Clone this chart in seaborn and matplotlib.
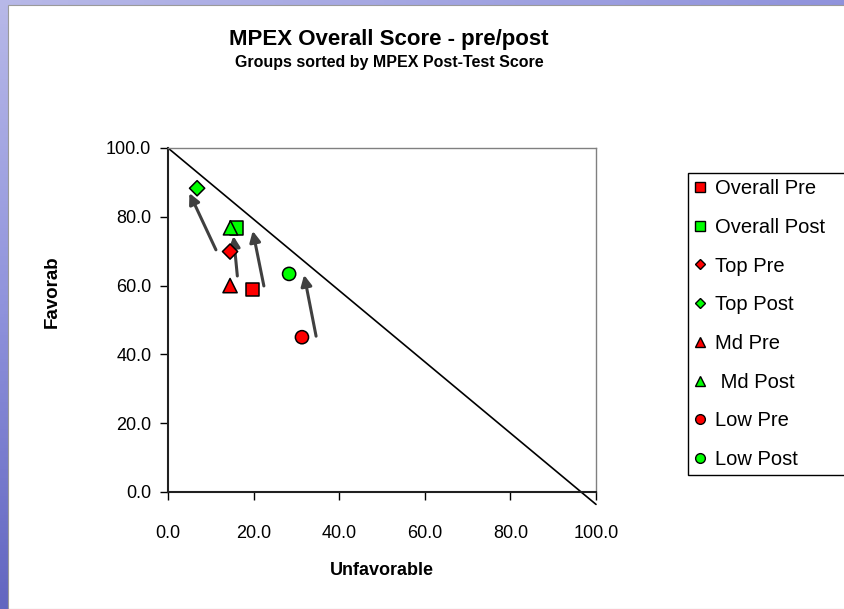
import numpy as np
import pandas as pd
import matplotlib
matplotlib.use("Agg")
import matplotlib.pyplot as plt
from matplotlib.patches import Rectangle
import seaborn as sns

# values
series = ["Overall Pre", "Overall Post", "Top Pre", "Top Post",
          "Md Pre", " Md Post", "Low Pre", "Low Post"]
unfavorable = [19.7, 16.0, 14.5, 6.8, 14.5, 14.6, 31.3, 28.3]
favorable = [58.9, 76.8, 69.9, 88.3, 60.0, 76.8, 45.0, 63.4]

# pre -> post arrows (tail and head), drawn beside the points
arrow_x0 = [11.2, 16.2, 22.4, 34.6]
arrow_y0 = [70.4, 62.8, 59.9, 45.3]
arrow_x1 = [5.0, 15.3, 19.8, 31.8]
arrow_y1 = [86.9, 74.4, 75.9, 63.1]

# "balance" line: favorable + unfavorable = 100 (drawn a bit past the axis)
line_x = [0.0, 100.0]
line_y = [100.0, -3.6]

ticks = [0, 20, 40, 60, 80, 100]

df = pd.DataFrame({"Unfavorable": unfavorable, "Favorable": favorable, "series": series})

palette = {s: ("#FF0000" if "Pre" in s else "#00FF00") for s in series}
markers = {"Overall Pre": "s", "Overall Post": "s", "Top Pre": "D", "Top Post": "D",
           "Md Pre": "^", " Md Post": "^", "Low Pre": "o", "Low Post": "o"}
sizes = {"Overall Pre": 95, "Overall Post": 95, "Top Pre": 60, "Top Post": 60,
         "Md Pre": 105, " Md Post": 105, "Low Pre": 90, "Low Post": 90}

sns.set_style("white")
plt.rcParams["font.family"] = ["Liberation Sans", "DejaVu Sans"]
plt.rcParams.update({"text.color": "black", "axes.labelcolor": "black",
                     "xtick.color": "black", "ytick.color": "black"})

W, H = 845, 609
fig = plt.figure(figsize=(W / 100, H / 100), dpi=100)

# blue slide border, white chart panel on top
bg = fig.add_axes([0, 0, 1, 1], zorder=-10)
gy, gx = np.mgrid[0:1:200j, 0:1:200j]
grad = np.clip(0.2 + 0.6 * gy + 0.3 * gx, 0, 1)
cmap = matplotlib.colors.LinearSegmentedColormap.from_list("slide", ["#d2d2f0", "#9093dc", "#4448ae"])
bg.imshow(grad, aspect="auto", cmap=cmap, vmin=0, vmax=1, extent=[0, 1, 0, 1], origin="upper")
bg.set_axis_off()
fig.patches.append(Rectangle((8 / W, 0), 1 - 8 / W, 1 - 5 / H, transform=fig.transFigure,
                             facecolor="white", edgecolor="#9a9a9a", lw=0.8, zorder=-5))

ax = fig.add_axes([168 / W, 1 - 492 / H, 428 / W, 344 / H])
ax.set_facecolor("none")

ax.plot(line_x, line_y, color="black", lw=1.2, clip_on=False, zorder=2)

for x0, y0, x1, y1 in zip(arrow_x0, arrow_y0, arrow_x1, arrow_y1):
    ax.annotate("", xy=(x1, y1), xytext=(x0, y0),
                arrowprops=dict(arrowstyle="-|>", color="#404040", lw=2.2,
                                mutation_scale=16, shrinkA=0, shrinkB=0), zorder=3)

sns.scatterplot(data=df, x="Unfavorable", y="Favorable", hue="series", style="series",
                size="series", sizes=sizes, palette=palette, markers=markers,
                edgecolor="black", linewidth=1.1, ax=ax, zorder=4, clip_on=False)

ax.set_xlim(0, 100)
ax.set_ylim(0, 100)
ax.set_xticks(ticks)
ax.set_yticks(ticks)
ax.set_xticklabels([f"{t:.1f}" for t in ticks])
ax.set_yticklabels([f"{t:.1f}" for t in ticks])
ax.tick_params(axis="both", direction="out", length=6, width=1, color="black",
               labelsize=13, left=True, bottom=True)
ax.tick_params(axis="x", pad=18)
ax.tick_params(axis="y", pad=6)
for side in ["left", "bottom"]:
    ax.spines[side].set_color("#202020")
    ax.spines[side].set_linewidth(1.5)
for side in ["top", "right"]:
    ax.spines[side].set_color("#808080")
    ax.spines[side].set_linewidth(1.0)

ax.set_xlabel("Unfavorable", fontsize=13, fontweight="bold", labelpad=14)
ax.set_ylabel("")

# y label is cut off at the top in the original: draw it in a small clipping box
lab_ax = fig.add_axes([30 / W, 1 - 340 / H, 40 / W, (340 - 259) / H])
lab_ax.set_axis_off()
lab_ax.text(0.55, 12 / 81, "Favorable", rotation=90, ha="center", va="bottom",
            fontsize=13.5, fontweight="bold", transform=lab_ax.transAxes, clip_on=True)

fig.text(389 / W, 1 - 40 / H, "MPEX Overall Score - pre/post", ha="center", va="center",
         fontsize=16, fontweight="bold")
fig.text(389 / W, 1 - 63 / H, "Groups sorted by MPEX Post-Test Score", ha="center", va="center",
         fontsize=11.5, fontweight="bold")

leg = ax.get_legend()
handles = leg.legend_handles
labels = [t.get_text() for t in leg.get_texts()]
leg.remove()
for h in handles:
    h.set_markersize(5.5 if h.get_marker() == "D" else 7)
    h.set_markeredgecolor("black")
    h.set_markeredgewidth(1.0)
# the legend box runs past the right edge of the picture, as in the original
fig.legend(handles, labels, loc="upper left", mode="expand",
           bbox_to_anchor=(688 / W, 0, 175 / W, 1 - 173 / H),
           frameon=True, fancybox=False, edgecolor="black", framealpha=1,
           fontsize=14.5, labelspacing=0.98, handlelength=0.6, handletextpad=0.45,
           borderpad=0.3, borderaxespad=0)

fig.savefig("out.png", dpi=100)
